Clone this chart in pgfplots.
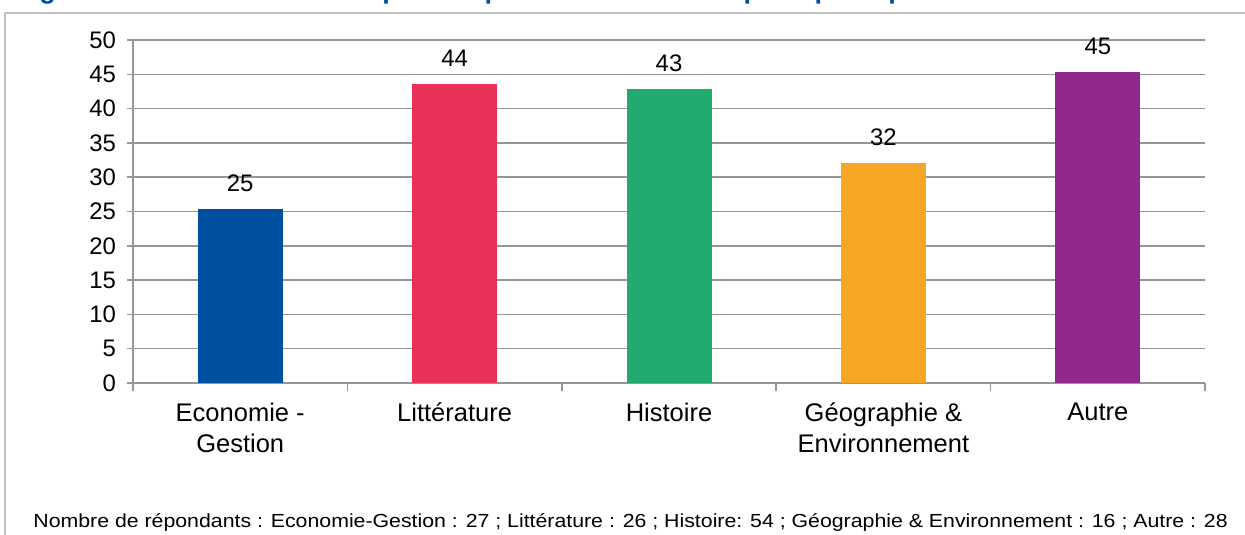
\documentclass[border=0pt]{standalone}
\usepackage{pgfplots}
\pgfplotsset{compat=1.18}
\usepackage{fontspec}
\setmainfont{Liberation Sans}
\definecolor{gridgray}{RGB}{150,150,150}
\definecolor{framegray}{RGB}{192,192,192}
\definecolor{titleblue}{RGB}{0,80,160}
\definecolor{ecoblue}{RGB}{0,80,160}
\definecolor{litred}{RGB}{232,48,88}
\definecolor{histgreen}{RGB}{35,170,110}
\definecolor{geoorange}{RGB}{245,166,35}
\definecolor{autpurple}{RGB}{145,40,140}

\begin{document}
\begin{tikzpicture}[x=0.5bp,y=-0.5bp]
\useasboundingbox (0,0) rectangle (1245,535);
\begin{scope}
\clip (0,0) rectangle (1245,535);
% title, cut off by the top edge as in the source
\node[anchor=base west,inner sep=0,text=titleblue,font=\bfseries\fontsize{13.6}{15}\selectfont] at (15,-1.5)
  {Figure 6 : Nombre de textes publiés par an selon la discipline principale de l'auteur};
\draw[framegray,line width=1bp] (5,540) -- (5,13) -- (1250,13);
\end{scope}
\node[anchor=base west,inner sep=0,font=\fontsize{9.5}{11}\selectfont] at (33,527)
  {\scalebox{1.125}[1]{Nombre de répondants : Economie-Gestion : 27 ; Littérature : 26 ; Histoire: 54 ; Géographie \& Environnement : 16 ; Autre : 28}};

\begin{axis}[at={(66.5bp,-191.5bp)},anchor=south west,
  scale only axis,width=536bp,height=171.5bp,
  font=\fontsize{12}{14}\selectfont,
  /pgf/number format/assume math mode=true,
  xmin=-0.5,xmax=4.5,ymin=0,ymax=50,
  ytick={0,5,...,50},
  xtick={0,...,4},
  xticklabels={{Economie -\\Gestion},Littérature,Histoire,{Géographie \&\\Environnement},Autre},
  xticklabel style={align=center,anchor=north,font=\fontsize{12.8}{15.5}\selectfont,yshift=-3.5bp},
  yticklabel style={xshift=-2bp},
  minor xtick={-0.5,0.5,...,4.5},
  axis x line*=bottom,axis y line*=left,
  axis line style={gridgray,line width=0.75bp},
  tick align=outside,
  major tick length=3bp,minor tick length=4bp,
  major x tick style={draw=none},
  minor x tick style={draw=gridgray,line width=0.75bp},
  y tick style={draw=gridgray,line width=0.75bp},
  ymajorgrids,grid style={gridgray,line width=0.75bp},
  ybar,bar width=42.5bp,bar shift=0pt,
  nodes near coords={\pgfmathprintnumber[fixed,precision=0]{\pgfplotspointmeta}},
  nodes near coords style={anchor=south,yshift=5bp,black,font=\fontsize{12}{14}\selectfont},
  clip=false]
\addplot[fill=ecoblue,draw=none] coordinates {(0,25.4)};
\addplot[fill=litred,draw=none] coordinates {(1,43.6)};
\addplot[fill=histgreen,draw=none] coordinates {(2,42.9)};
\addplot[fill=geoorange,draw=none] coordinates {(3,32.1)};
\addplot[fill=autpurple,draw=none] coordinates {(4,45.4)};
\end{axis}
\end{tikzpicture}
\end{document}
